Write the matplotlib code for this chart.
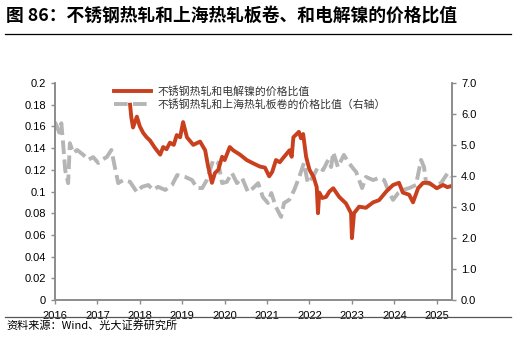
import matplotlib
matplotlib.use('Agg')
import matplotlib.pyplot as plt
from matplotlib.ticker import FuncFormatter, MultipleLocator

plt.rcParams['font.family'] = ['Liberation Sans', 'Noto Sans CJK SC']

# 不锈钢热轧 / 电解镍 (left axis), x in fractional years
nickel_x = [2017.77, 2017.80, 2017.84, 2017.93, 2018.0, 2018.08, 2018.16, 2018.24, 2018.36, 2018.48, 2018.55,
            2018.63, 2018.71, 2018.80, 2018.87, 2018.95, 2019.02, 2019.11, 2019.26, 2019.42, 2019.54, 2019.61,
            2019.70, 2019.77, 2019.85, 2019.94, 2020.0, 2020.12, 2020.2, 2020.36, 2020.52, 2020.67,
            2020.83, 2020.95, 2021.05, 2021.12, 2021.21, 2021.30, 2021.38, 2021.53, 2021.58, 2021.62, 2021.75, 2021.80, 2021.85,
            2021.92, 2022.0, 2022.1, 2022.17, 2022.2, 2022.23, 2022.3, 2022.39, 2022.47, 2022.56, 2022.70,
            2022.86, 2022.98, 2023.0, 2023.05, 2023.17, 2023.33, 2023.5, 2023.64, 2023.81, 2023.97,
            2024.11, 2024.2, 2024.35, 2024.44, 2024.56, 2024.68, 2024.82, 2025.0, 2025.15, 2025.25, 2025.34]
nickel_v = [0.180, 0.168, 0.159, 0.169, 0.160, 0.154, 0.150, 0.147, 0.140, 0.134, 0.141,
            0.139, 0.145, 0.143, 0.152, 0.150, 0.164, 0.150, 0.143, 0.146, 0.138, 0.123,
            0.108, 0.117, 0.120, 0.132, 0.129, 0.141, 0.138, 0.134, 0.129, 0.126,
            0.123, 0.122, 0.114, 0.118, 0.129, 0.127, 0.131, 0.138, 0.132, 0.150, 0.155, 0.149, 0.153,
            0.132, 0.120, 0.113, 0.104, 0.080, 0.099, 0.094, 0.095, 0.100, 0.103, 0.095,
            0.089, 0.080, 0.057, 0.080, 0.086, 0.085, 0.090, 0.092, 0.100, 0.106,
            0.108, 0.099, 0.097, 0.090, 0.103, 0.108, 0.108, 0.103, 0.106, 0.104, 0.105]

# 不锈钢热轧 / 上海热轧板卷 (right axis)
coil_x = [2016.0, 2016.05, 2016.1, 2016.15, 2016.19, 2016.24, 2016.31, 2016.35, 2016.43, 2016.52,
          2016.67, 2016.78, 2016.9, 2017.02, 2017.1, 2017.22, 2017.33, 2017.41, 2017.49, 2017.61,
          2017.77, 2017.93, 2018.05, 2018.2, 2018.31, 2018.43, 2018.6, 2018.76, 2018.88, 2019.07,
          2019.23, 2019.35, 2019.47, 2019.58, 2019.73, 2019.85, 2019.94, 2020.05, 2020.17, 2020.29,
          2020.41, 2020.55, 2020.67, 2020.79, 2020.9, 2021.02, 2021.1, 2021.21, 2021.33, 2021.40,
          2021.52, 2021.64, 2021.75, 2021.87, 2021.96, 2022.08, 2022.2, 2022.32, 2022.44, 2022.51,
          2022.56, 2022.67, 2022.81, 2022.93, 2023.02, 2023.1, 2023.24, 2023.33, 2023.5, 2023.64,
          2023.76, 2023.88, 2023.97, 2024.09, 2024.2, 2024.35, 2024.51, 2024.63, 2024.70, 2024.75,
          2024.91, 2025.1, 2025.26, 2025.34]
coil_v = [5.74, 5.58, 5.40, 5.70, 5.06, 4.19, 3.77, 5.06, 4.74, 4.84,
          4.68, 4.52, 4.61, 4.42, 4.52, 4.61, 4.84, 4.29, 3.77, 3.87,
          3.81, 3.48, 3.65, 3.71, 3.55, 3.65, 3.55, 3.71, 4.03, 3.97,
          3.87, 3.61, 3.61, 3.87, 4.52, 4.42, 3.77, 3.81, 4.10, 3.77,
          3.94, 3.48, 3.61, 3.77, 3.32, 3.13, 3.45, 3.00, 2.68, 3.13,
          3.23, 3.55, 3.94, 4.42, 3.77, 3.97, 4.29, 4.19, 4.52, 4.29,
          4.77, 4.29, 4.68, 4.42, 4.26, 4.13, 3.61, 3.97, 3.87, 3.94,
          3.87, 3.45, 3.23, 3.45, 3.55, 3.61, 3.71, 4.52, 4.29, 3.77,
          3.71, 3.77, 4.10, 3.97]

years = list(range(2016, 2026))
label_nickel = '不锈钢热轧和电解镍的价格比值'
label_coil = '不锈钢热轧和上海热轧板卷的价格比值（右轴）'

red = '#C9401F'
grey = '#B5B5B5'
spine_c = '#8C8C8C'

fig = plt.figure(figsize=(5.16, 3.63), dpi=100)
ax = fig.add_axes([0.1066, 0.1736, 0.7694, 0.5977])
ax2 = ax.twinx()

l2, = ax2.plot(coil_x, coil_v, color=grey, lw=2.8, linestyle=(0, (3.5, 1.4)))
l1, = ax.plot(nickel_x, nickel_v, color=red, lw=2.8)
ax.set_zorder(ax2.get_zorder() + 1)
ax.patch.set_visible(False)

ax.set_xlim(2016, 2025.36)
ax.set_ylim(0, 0.2)
ax2.set_ylim(0, 7)
ax.yaxis.set_major_locator(MultipleLocator(0.02))
ax.yaxis.set_major_formatter(FuncFormatter(lambda v, p: f'{round(v, 2):g}'))
ax2.yaxis.set_major_locator(MultipleLocator(1))
ax2.yaxis.set_major_formatter(FuncFormatter(lambda v, p: f'{v:.1f}'))
ax.set_xticks(years)
ax.set_xticklabels([str(y) for y in years])

for a in (ax, ax2):
    a.spines['top'].set_visible(False)
    for s in ('left', 'right', 'bottom'):
        a.spines[s].set_color(spine_c)
        a.spines[s].set_linewidth(1.2)
    a.tick_params(colors=spine_c, labelcolor='black', labelsize=8, length=3, width=1)
ax.tick_params(axis='x', pad=5)

leg = ax.legend([l1, l2], [label_nickel, label_coil], loc='upper left',
                bbox_to_anchor=(0.125, 1.03), frameon=False,
                handlelength=3.4, handletextpad=0.6, labelspacing=0.2,
                prop={'family': ['Noto Sans CJK SC'], 'size': 7.8})
for t in leg.get_texts():
    t.set_color('#333333')

fig.text(0.012, 0.958, '图 86：不锈钢热轧和上海热轧板卷、和电解镍的价格比值',
         fontsize=12.8, fontweight='bold', family=['Noto Sans CJK SC'], va='center')
fig.add_artist(plt.Line2D([0.01, 0.99], [0.905, 0.905], color='black', lw=0.9))
fig.add_artist(plt.Line2D([0.01, 0.99], [0.128, 0.128], color='#555555', lw=0.9))
fig.text(0.012, 0.103, '资料来源：Wind、光大证券研究所', fontsize=8,
         family=['Noto Sans CJK SC'], va='center')

fig.savefig('out.png', dpi=100)
